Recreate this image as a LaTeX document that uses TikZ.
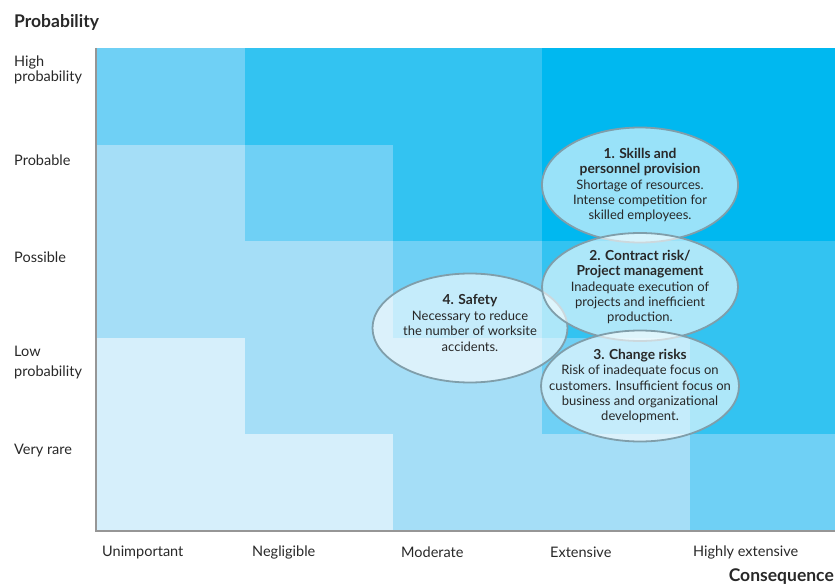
\documentclass[tikz,border=0pt]{standalone}
\usepackage{fontspec}
\setmainfont{Lato}
\usetikzlibrary{shapes.geometric, positioning}
\definecolor{risk0}{RGB}{214, 239, 251}
\definecolor{risk1}{RGB}{165, 222, 247}
\definecolor{risk2}{RGB}{111, 208, 245}
\definecolor{risk3}{RGB}{51, 195, 241}
\definecolor{risk4}{RGB}{0, 184, 240}
\definecolor{axisgray}{RGB}{150, 150, 150}
\definecolor{rim}{RGB}{128, 158, 170}
\definecolor{txt}{RGB}{40, 40, 40}
\tikzstyle{axisline} = [axisgray, line width=2.5pt]
\tikzstyle{riskellipse} = [ellipse, draw=rim, line width=1.8pt, fill=white, fill opacity=0.6, inner sep=0]
\tikzstyle{risktext} = [align=center, inner sep=0, text=txt, font=\fontsize{13pt}{15.4pt}\selectfont]
\tikzstyle{ylabel} = [anchor=west, align=left, inner sep=0, text=txt,
  font=\fontsize{14.5pt}{15pt}\selectfont]
\tikzstyle{xlabel} = [anchor=west, inner sep=0, text=txt, font=\fontsize{14.5pt}{15pt}\selectfont]
\tikzstyle{axistitle} = [inner sep=0, text=txt, font=\fontsize{17.5pt}{19pt}\selectfont\bfseries]
\newcommand{\tikzriskellipse}[2]{\node[riskellipse, minimum width=#1, minimum height=#2]}
\newcommand{\riskhead}[1]{{\fontsize{13.8pt}{15.4pt}\selectfont\bfseries #1}}

\begin{document}
\begin{tikzpicture}[x=1pt, y=-1pt]
    \useasboundingbox (0, 0) rectangle (835, 585);

    % cells
    \foreach \lvls [count=\r from 0] in {{2,3,3,4,4},{1,2,3,4,4},{1,1,2,3,3},{0,1,1,2,3},{0,0,1,1,2}}
      \foreach \l [count=\c from 0] in \lvls
        \fill[risk\l] (96+148.5*\c, 48+96.6*\r) rectangle ++(148.6, 96.7);

    % axes
    \draw[axisline] (96, 48) -- (96, 531) -- (840, 531);

    % titles
    \node[axistitle, anchor=west] (ytitle) at (14, 22)  {Probability};
    \node[axistitle, anchor=east] (xtitle) at (834, 577) {Consequence};

    % probability labels
    \node[ylabel] (high)     at (14, 70)  {High\\[-0.5pt]probability};
    \node[ylabel] (probable) at (14, 160) {Probable};
    \node[ylabel] (possible) at (14, 257) {Possible};
    \node[ylabel] (low)      at (14, 363) {Low\\[5pt]probability};
    \node[ylabel] (rare)     at (14, 451) {Very rare};

    % consequence labels
    \node[xlabel] (unimp)    at (102, 552) {Unimportant};
    \node[xlabel] (neglig)   at (252, 552) {Negligible};
    \node[xlabel] (moderate) at (401, 552) {Moderate};
    \node[xlabel] (extens)   at (550, 552) {Extensive};
    \node[xlabel] (highly)   at (693, 552) {Highly extensive};

    % risks
    \tikzriskellipse{196pt}{115pt} (skills)   at (640, 185) {};
    \tikzriskellipse{195pt}{109pt} (safety)   at (470, 328) {};
    \tikzriskellipse{196pt}{108pt} (contract) at (640, 287) {};
    \tikzriskellipse{198pt}{111pt} (change)   at (640, 386) {};

    \node[risktext] (skills-txt) at (skills)
      {\riskhead{1. Skills and}\\\riskhead{personnel provision}\\Shortage of resources.\\Intense competition for\\skilled employees.};
    \node[risktext] (safety-txt) at ([yshift=5pt]safety.center)
      {\riskhead{4. Safety}\\Necessary to reduce\\the number of worksite\\accidents.};
    \node[risktext] (contract-txt) at (contract)
      {\riskhead{2. Contract risk/}\\\riskhead{Project management}\\Inadequate execution of\\projects and inefficient\\production.};
    \node[risktext] (change-txt) at (change)
      {\riskhead{3. Change risks}\\Risk of inadequate focus on\\customers. Insufficient focus on\\business and organizational\\development.};
  \end{tikzpicture}
\end{document}
